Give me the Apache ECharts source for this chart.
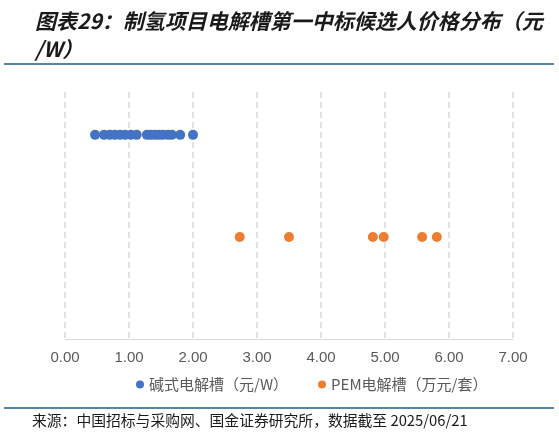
<!DOCTYPE html>
<html>
<head>
<meta charset="utf-8">
<script src="https://cdn.jsdelivr.net/npm/echarts@6/dist/echarts.min.js"></script>
<style>
  html, body { margin: 0; padding: 0; background: #fff; }
  #main { width: 559px; height: 436px; }
</style>
</head>
<body>
<div id="main"></div>
<script>
// 碱式电解槽（元/W）
var alkPrices = [0.47, 0.61, 0.70, 0.78, 0.86, 0.94, 1.03, 1.12, 1.28, 1.34, 1.41, 1.47, 1.53, 1.61, 1.67, 1.80, 2.00];
// PEM电解槽（万元/套）
var pemPrices = [2.73, 3.50, 4.81, 4.98, 5.58, 5.81];
var alkRow = 2;
var pemRow = 1;
var xTicks = [0, 1, 2, 3, 4, 5, 6, 7];

var myChart = echarts.init(document.getElementById("main"));
myChart.setOption({
  animation: false,
  title: {
    text: "图表29：制氢项目电解槽第一中标候选人价格分布（元\n/W）",
    left: 30,
    top: 2,
    textStyle: {
      color: "#1a1a1a",
      fontSize: 21,
      fontWeight: "bold",
      fontStyle: "italic",
      fontFamily: "Noto Sans CJK SC",
      lineHeight: 28
    }
  },
  graphic: [
    {
      type: "line",
      shape: { x1: 4, y1: 64, x2: 554, y2: 64 },
      style: { stroke: "#1f5c87", lineWidth: 1.5 }
    },
    {
      type: "line",
      shape: { x1: 4, y1: 408, x2: 554, y2: 408 },
      style: { stroke: "#1f5c87", lineWidth: 1.5 }
    },
    {
      type: "text",
      left: 32,
      top: 413,
      style: {
        text: "来源：中国招标与采购网、国金证券研究所，数据截至 2025/06/21",
        fill: "#1a1a1a",
        fontSize: 14.8,
        fontFamily: "Noto Sans CJK SC"
      }
    }
  ],
  legend: {
    top: 372,
    left: 131,
    itemGap: 30,
    itemWidth: 8,
    itemHeight: 8,
    textStyle: {
      color: "#595959",
      fontSize: 15,
      fontFamily: "Noto Sans CJK SC"
    },
    data: [
      { name: "碱式电解槽（元/W）", icon: "circle" },
      { name: "PEM电解槽（万元/套）", icon: "circle" }
    ]
  },
  grid: {
    left: 65,
    right: 46,
    top: 92,
    bottom: 97
  },
  xAxis: {
    type: "value",
    min: xTicks[0],
    max: xTicks[xTicks.length - 1],
    interval: 1,
    axisLine: { show: true, lineStyle: { color: "#d9d9d9", width: 1 } },
    axisTick: { show: false },
    splitLine: {
      show: true,
      lineStyle: { color: "#d9d9d9", type: [6, 4], width: 1.5 }
    },
    axisLabel: {
      color: "#595959",
      fontSize: 15,
      margin: 11,
      fontFamily: "Liberation Sans",
      formatter: function (v) { return v.toFixed(2); }
    }
  },
  yAxis: {
    type: "value",
    min: 0,
    max: 2.42,
    show: false,
    splitLine: { show: false }
  },
  series: [
    {
      name: "碱式电解槽（元/W）",
      type: "scatter",
      symbol: "circle",
      symbolSize: 10,
      itemStyle: { color: "#4472c4", opacity: 1 },
      data: alkPrices.map(function (v) { return [v, alkRow]; })
    },
    {
      name: "PEM电解槽（万元/套）",
      type: "scatter",
      symbol: "circle",
      symbolSize: 10,
      itemStyle: { color: "#ed7d31", opacity: 1 },
      data: pemPrices.map(function (v) { return [v, pemRow]; })
    }
  ]
});
</script>
</body>
</html>
